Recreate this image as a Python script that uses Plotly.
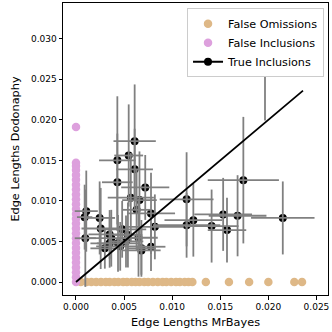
import plotly.graph_objects as go

# false omissions: edge in MrBayes tree only (y = 0)
fo_x = [0.0005, 0.0011, 0.0016, 0.0021, 0.0026, 0.0031, 0.0035, 0.0040, 0.0044,
        0.0049, 0.0053, 0.0058, 0.0062, 0.0066, 0.0071, 0.0075, 0.0080, 0.0085,
        0.0090, 0.0094, 0.0099, 0.0104, 0.0108, 0.0113, 0.0117, 0.0121,
        0.0135, 0.0159, 0.0180, 0.0200, 0.0227, 0.0235]
fo_y = [0.0] * len(fo_x)

# false inclusions: edge in Dodonaphy tree only (x = 0)
fi_y = [0.0000, 0.0006, 0.0012, 0.0018, 0.0024, 0.0030, 0.0036, 0.0042, 0.0048,
        0.0054, 0.0060, 0.0066, 0.0072, 0.0078, 0.0084, 0.0090, 0.0096, 0.0102,
        0.0108, 0.0114, 0.0120, 0.0126, 0.0132, 0.0138, 0.0143, 0.0147, 0.0191]
fi_x = [0.0] * len(fi_y)

# true inclusions with error bars
ti_x = [0.01965, 0.0061, 0.00548, 0.0043, 0.0061, 0.0043, 0.0072, 0.0174, 0.0057,
        0.0066, 0.0115, 0.00107, 0.0009, 0.00246, 0.00257, 0.00097, 0.0078, 0.0153,
        0.0168, 0.0215, 0.0122, 0.0115, 0.0141, 0.0157, 0.0082, 0.0048, 0.0065,
        0.0035, 0.00367, 0.0035, 0.00437, 0.0054, 0.0068, 0.0078, 0.0030, 0.0068,
        0.0063, 0.0046, 0.0052]
ti_y = [0.0261, 0.01736, 0.0156, 0.0150, 0.0139, 0.0123, 0.01166, 0.01256, 0.0104,
        0.0101, 0.0102, 0.00874, 0.0080, 0.0079, 0.0066, 0.0054, 0.00846, 0.00834,
        0.00817, 0.0079, 0.00763, 0.0070, 0.0069, 0.0064, 0.0068, 0.0065, 0.00546,
        0.00587, 0.0054, 0.00477, 0.00477, 0.0058, 0.00415, 0.00435, 0.00415, 0.0039,
        0.0089, 0.0044, 0.0050]
ti_xerr = [0.0038, 0.0022, 0.0015, 0.0019, 0.0019, 0.0016, 0.0025, 0.0037, 0.0024,
           0.0018, 0.0028, 0.0012, 0.0008, 0.0016, 0.0020, 0.0011, 0.0025, 0.0030,
           0.0030, 0.0033, 0.0030, 0.0035, 0.0028, 0.0020, 0.0030, 0.0025, 0.0020,
           0.0022, 0.0025, 0.0020, 0.0022, 0.0015, 0.0015, 0.0015, 0.0015, 0.0020,
           0.0015, 0.0025, 0.0018]
ti_yerr = [0.0062, 0.0070, 0.0063, 0.0079, 0.0050, 0.0060, 0.0040, 0.0078, 0.0055,
           0.0060, 0.0058, 0.0050, 0.0040, 0.0045, 0.0050, 0.0060, 0.0050, 0.0045,
           0.0050, 0.0045, 0.0045, 0.0040, 0.0045, 0.0040, 0.0040, 0.0035, 0.0048,
           0.0030, 0.0035, 0.0030, 0.0035, 0.0040, 0.0035, 0.0030, 0.0025, 0.0030,
           0.0050, 0.0030, 0.0032]

diag = [0.0, max(fo_x + ti_x + [0.0236])]

fig = go.Figure()
fig.add_trace(go.Scatter(x=fo_x, y=fo_y, mode='markers', name='False Omissions',
                         marker=dict(color='#deb887', size=8.5, line=dict(width=0))))
fig.add_trace(go.Scatter(x=fi_x, y=fi_y, mode='markers', name='False Inclusions',
                         marker=dict(color='#dda0dd', size=8.5, line=dict(width=0))))
fig.add_trace(go.Scatter(x=ti_x, y=ti_y, mode='markers', showlegend=False,
                         marker=dict(color='black', size=8, line=dict(width=0))))
fig.add_trace(go.Scatter(x=ti_x, y=ti_y, mode='markers', showlegend=False,
                         marker=dict(color='rgba(0,0,0,0)', size=1),
                         error_x=dict(array=ti_xerr, color='#808080', thickness=1.8, width=0),
                         error_y=dict(array=ti_yerr, color='#808080', thickness=1.8, width=0)))
fig.add_trace(go.Scatter(x=diag, y=diag, mode='lines', showlegend=False,
                         line=dict(color='black', width=1.8)))
# legend entry for true inclusions
fig.add_trace(go.Scatter(x=[None], y=[None], mode='lines+markers', name='True Inclusions',
                         line=dict(color='black', width=1.8),
                         marker=dict(color='black', size=8)))

axis_common = dict(showgrid=False, zeroline=False, showline=True, mirror=True,
                   linecolor='black', linewidth=1, ticks='outside', ticklen=3.5,
                   tickcolor='black', tickformat='.3f', dtick=0.005, tick0=0,
                   tickfont=dict(size=9), automargin=False)

fig.update_layout(
    width=332, height=332,
    margin=dict(l=63, r=4, t=3, b=37),
    plot_bgcolor='white', paper_bgcolor='white',
    font=dict(family='DejaVu Sans', size=11, color='black'),
    xaxis=dict(range=[-0.00135, 0.0262],
               title=dict(text='Edge Lengths MrBayes', standoff=6, font=dict(size=11.3)),
               **axis_common),
    yaxis=dict(range=[-0.0016, 0.0344],
               title=dict(text='Edge Lengths Dodonaphy', standoff=8, font=dict(size=11.3)),
               **axis_common),
    legend=dict(x=0.985, y=0.982, xanchor='right', yanchor='top',
                bgcolor='white', bordercolor='#cccccc', borderwidth=1,
                font=dict(size=11.2), tracegroupgap=0, itemwidth=30),
)

fig.write_html("out.html", config={'displayModeBar': False},
               post_script="document.body.style.margin='0';")
